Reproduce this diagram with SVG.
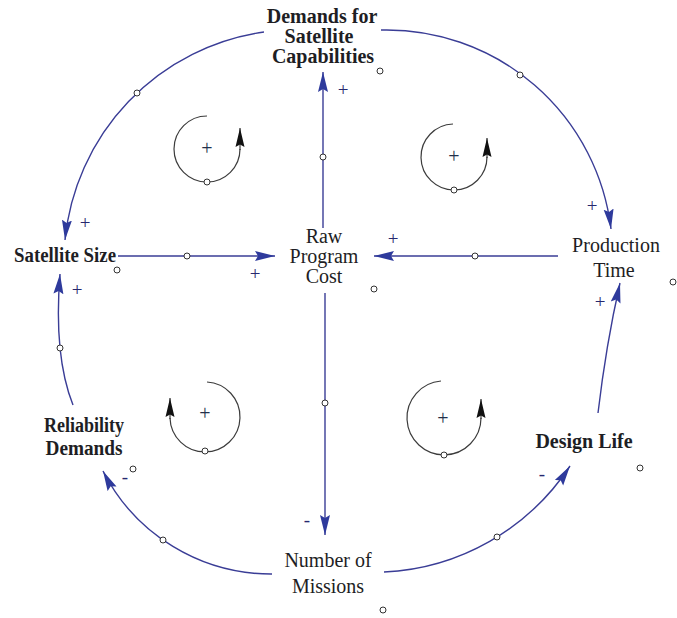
<svg xmlns="http://www.w3.org/2000/svg" width="677" height="618" viewBox="0 0 677 618">
<style>
.lbl{font-family:"Liberation Serif","Times New Roman",serif;font-size:20px;fill:#1e1e24;text-anchor:middle}
.b{font-weight:bold}
.conn{fill:none;stroke:#3a3d96;stroke-width:1.4}
.loop{fill:none;stroke:#3c3c3c;stroke-width:1.2}
.sg{font-family:"Liberation Serif","Times New Roman",serif;font-size:19px;fill:#26286e;text-anchor:middle}
.lsg{font-family:"Liberation Serif","Times New Roman",serif;font-size:20px;fill:#22304a;text-anchor:middle}
.dot{fill:#fff;stroke:#333;stroke-width:1}
</style>
<defs>
<marker id="ab" markerUnits="userSpaceOnUse" markerWidth="22" markerHeight="12" refX="20" refY="6" orient="auto">
<path d="M0,1 L20,6 L0,11 L3,6 Z" fill="#2e3a9c"/>
</marker>
<marker id="ak" markerUnits="userSpaceOnUse" markerWidth="20" markerHeight="12" refX="19" refY="6" orient="auto">
<path d="M0,1.5 L19,6 L0,10.5 L2.5,6 Z" fill="#111"/>
</marker>
</defs>
<g id="connectors">
<path class="conn" d="M381,30 A226,226 0 0,1 611,229" marker-end="url(#ab)"/>
<path class="conn" d="M264,32 A233,233 0 0,0 65,240" marker-end="url(#ab)"/>
<path class="conn" d="M323,228 L323,72" marker-end="url(#ab)"/>
<path class="conn" d="M118,256 L275,256" marker-end="url(#ab)"/>
<path class="conn" d="M558,256 L374,256" marker-end="url(#ab)"/>
<path class="conn" d="M325,293 L325,535" marker-end="url(#ab)"/>
<path class="conn" d="M598,413 Q606,345 620,283" marker-end="url(#ab)"/>
<path class="conn" d="M73,405 Q53.5,356 60,274" marker-end="url(#ab)"/>
<path class="conn" d="M272,574 A188.5,188.5 0 0,1 103,471" marker-end="url(#ab)"/>
<path class="conn" d="M384,572 A236,236 0 0,0 570,466" marker-end="url(#ab)"/>
<circle class="dot" cx="520" cy="75" r="3"/>
<circle class="dot" cx="137" cy="93" r="3"/>
<circle class="dot" cx="323" cy="157" r="3"/>
<circle class="dot" cx="187" cy="256" r="3"/>
<circle class="dot" cx="475" cy="256" r="3"/>
<circle class="dot" cx="325" cy="403" r="3"/>
<circle class="dot" cx="60" cy="348" r="3"/>
<circle class="dot" cx="163" cy="540" r="3"/>
<circle class="dot" cx="497" cy="537" r="3"/>
<text class="sg" x="343" y="96">+</text>
<text class="sg" x="85" y="229">+</text>
<text class="sg" x="255" y="280">+</text>
<text class="sg" x="77" y="296">+</text>
<text class="sg" x="393" y="245">+</text>
<text class="sg" x="592" y="212">+</text>
<text class="sg" x="600" y="308">+</text>
<text class="sg" x="307" y="526">-</text>
<text class="sg" x="125" y="483">-</text>
<text class="sg" x="542" y="480">-</text>
</g>
<g id="loop-top-left">
<path class="loop" d="M207,116 A33,33 0 1,0 240,149"/>
<path class="loop" d="M240,150 L240,128" marker-end="url(#ak)"/>
<circle class="dot" cx="207" cy="182" r="3"/>
<text class="lsg" x="207" y="155">+</text>
</g>
<g id="loop-top-right">
<path class="loop" d="M453,124 A33,33 0 1,0 487,157"/>
<path class="loop" d="M487,158 L487,138" marker-end="url(#ak)"/>
<circle class="dot" cx="454" cy="190" r="3"/>
<text class="lsg" x="454" y="163">+</text>
</g>
<g id="loop-bottom-left">
<path class="loop" d="M207,382 A35,35 0 1,1 170,418"/>
<path class="loop" d="M170,419 L170,398" marker-end="url(#ak)"/>
<circle class="dot" cx="205" cy="451" r="3"/>
<text class="lsg" x="205" y="420">+</text>
</g>
<g id="loop-bottom-right">
<path class="loop" d="M441,381 A37,37 0 1,0 481,418"/>
<path class="loop" d="M481,419 L481,399" marker-end="url(#ak)"/>
<circle class="dot" cx="444" cy="455" r="3"/>
<text class="lsg" x="443" y="425">+</text>
</g>
<g id="demands-for-satellite-capabilities">
<text class="lbl b" x="322" y="23">Demands for</text>
<text class="lbl b" x="319" y="43">Satellite</text>
<text class="lbl b" x="323" y="63">Capabilities</text>
<circle class="dot" cx="380" cy="71" r="3"/>
</g>
<g id="satellite-size">
<text class="lbl b" x="65" y="262" textLength="102" lengthAdjust="spacingAndGlyphs">Satellite Size</text>
<circle class="dot" cx="117" cy="270" r="3"/>
</g>
<g id="raw-program-cost">
<text class="lbl" x="324" y="243">Raw</text>
<text class="lbl" x="324" y="263">Program</text>
<text class="lbl" x="324" y="283">Cost</text>
<circle class="dot" cx="374" cy="289" r="3"/>
</g>
<g id="production-time">
<text class="lbl" x="616" y="252">Production</text>
<text class="lbl" x="614" y="277">Time</text>
<circle class="dot" cx="673" cy="282" r="3"/>
</g>
<g id="reliability-demands">
<text class="lbl b" x="84" y="432" textLength="80" lengthAdjust="spacingAndGlyphs">Reliability</text>
<text class="lbl b" x="84" y="455" textLength="77" lengthAdjust="spacingAndGlyphs">Demands</text>
<circle class="dot" cx="133" cy="469" r="3"/>
</g>
<g id="design-life">
<text class="lbl b" x="584" y="448">Design Life</text>
<circle class="dot" cx="640" cy="468" r="3"/>
</g>
<g id="number-of-missions">
<text class="lbl" x="328" y="567">Number of</text>
<text class="lbl" x="328" y="593">Missions</text>
<circle class="dot" cx="383" cy="610" r="3"/>
</g>
</svg>
